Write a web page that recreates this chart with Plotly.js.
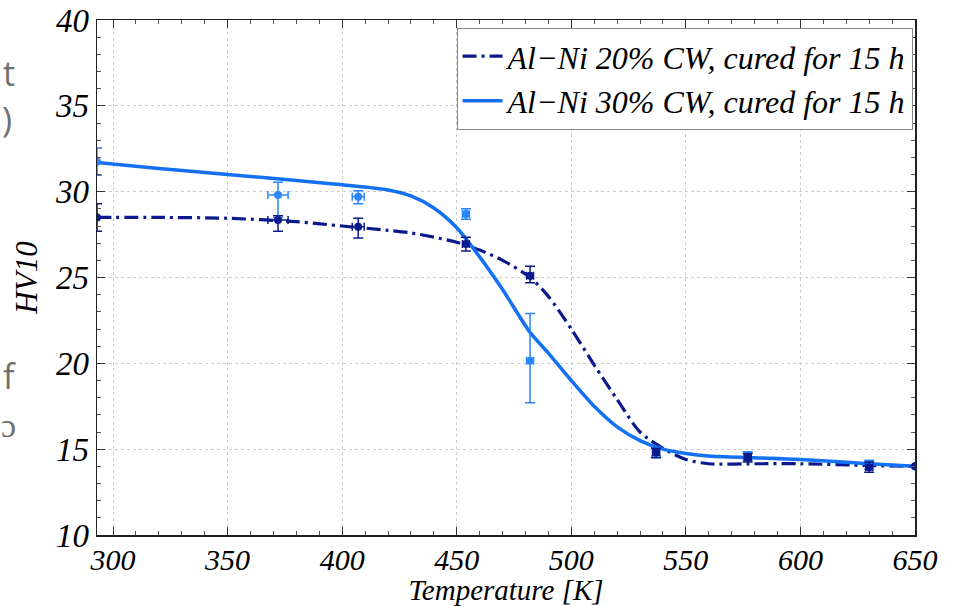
<!DOCTYPE html>
<html>
<head>
<meta charset="utf-8">
<script src="https://cdn.plot.ly/plotly-3.0.1.min.js"></script>
<style>html,body{margin:0;padding:0;background:#fff;}#chart{width:953px;height:606px;}</style>
</head>
<body>
<div id="chart"></div>
<script>
var tempPts = [293, 372, 407, 454, 482, 537, 577, 630, 650];
var hv20 = [28.5, 28.35, 27.95, 26.95, 25.1, 14.8, 14.5, 13.95, 14.0];
var hv20ErrPlus = [0.8, 0.25, 0.5, 0.4, 0.55, 0.25, 0.25, 0.3, 0];
var hv20ErrMinus = [0.8, 0.65, 0.65, 0.4, 0.4, 0.3, 0.25, 0.3, 0];
var temp20Err = [0, 4.4, 2.6, 1.5, 1.5, 1.5, 1.5, 1.5, 0];
var hv30 = [31.75, 29.8, 29.7, 28.7, 20.15, 14.85, 14.6, 14.1, 14.0];
var hv30ErrPlus = [0.8, 0.75, 0.35, 0.3, 2.75, 0.25, 0.25, 0.25, 0];
var hv30ErrMinus = [0.8, 1.3, 0.4, 0.3, 2.45, 0.25, 0.25, 0.25, 0];
var temp30Err = [0, 4.4, 2.6, 1.5, 1.5, 1.5, 1.5, 1.5, 0];

var curveT = [293, 320, 350, 380, 400, 420, 430, 440, 450, 460, 470, 482, 490, 500, 510, 520, 530, 540, 550, 560, 580, 600, 630, 650];
var curve20 = [28.5, 28.5, 28.45, 28.25, 28.0, 27.75, 27.6, 27.35, 27.05, 26.6, 26.0, 25.0, 23.9, 22.0, 19.9, 17.9, 16.0, 15.05, 14.4, 14.15, 14.15, 14.15, 14.05, 14.0];
var curve30 = [31.7, 31.35, 31.0, 30.65, 30.4, 30.1, 29.75, 29.05, 27.9, 26.2, 24.3, 21.8, 20.6, 19.0, 17.5, 16.3, 15.5, 15.0, 14.75, 14.6, 14.5, 14.4, 14.15, 14.0];

var names = ['Al\u2212Ni 20% CW, cured for 15 h', 'Al\u2212Ni 30% CW, cured for 15 h'];
var tickVals = [300, 350, 400, 450, 500, 550, 600, 650];
var ghostTexts = ['t', ')', 'f', '\u0254'];

var darkC = '#0a1a8c';
var lightC = '#1470f5';
var lightPt = '#2a84fa';
var serif = 'Liberation Serif';

var traces = [
  {x: curveT, y: curve20, mode: 'lines', name: names[0],
   line: {color: darkC, width: 3.2, dash: '14px,5px,3px,5px', shape: 'spline', smoothing: 0.8}},
  {x: curveT, y: curve30, mode: 'lines', name: names[1],
   line: {color: lightC, width: 3.5, shape: 'spline', smoothing: 0.8}},
  {x: tempPts, y: hv30, mode: 'markers', showlegend: false,
   marker: {color: lightPt, size: 8},
   error_y: {type: 'data', symmetric: false, array: hv30ErrPlus, arrayminus: hv30ErrMinus, color: lightPt, thickness: 1.5, width: 5},
   error_x: {type: 'data', array: temp30Err, color: lightPt, thickness: 1.5, width: 4}},
  {x: tempPts, y: hv20, mode: 'markers', showlegend: false,
   marker: {color: darkC, size: 8},
   error_y: {type: 'data', symmetric: false, array: hv20ErrPlus, arrayminus: hv20ErrMinus, color: darkC, thickness: 1.5, width: 5},
   error_x: {type: 'data', array: temp20Err, color: darkC, thickness: 1.5, width: 4}}
];

function px(p) { return (p - 97) / 818; }
function py(p) { return (535 - p) / 515; }
var ghost = {family: 'Open Sans', size: 34, color: '#707070'};
var ghostPos = [[1, 73], [0, 119], [1, 376], [-1, 424]];
var annotations = ghostTexts.map(function (t, i) {
  return {text: t, x: px(ghostPos[i][0]), y: py(ghostPos[i][1]), xref: 'paper', yref: 'paper',
          xanchor: 'left', yanchor: 'middle', showarrow: false, font: ghost};
});

var layout = {
  width: 953, height: 606,
  margin: {l: 97, r: 38, t: 20, b: 71},
  paper_bgcolor: '#ffffff', plot_bgcolor: '#ffffff',
  showlegend: true,
  legend: {x: 0.997, y: 0.985, xanchor: 'right', yanchor: 'top',
    bgcolor: '#ffffff', bordercolor: '#888888', borderwidth: 1,
    font: {family: serif, size: 32, style: 'italic', color: '#000'},
    itemwidth: 40, tracegroupgap: 0},
  xaxis: {
    range: [293, 650], tickvals: tickVals, ticktext: tickVals.map(String),
    ticks: 'inside', ticklen: 8, tickcolor: '#333', showline: true, linecolor: '#222', linewidth: 1.5, mirror: 'ticks',
    showgrid: true, gridcolor: '#cccccc', griddash: 'dot', gridwidth: 1, zeroline: false,
    minor: {ticks: 'inside', ticklen: 4, tick0: 300, dtick: 10, tickcolor: '#555', showgrid: false},
    tickfont: {family: serif, size: 30, style: 'italic', color: '#000'},
    ticklabelstandoff: -3,
    title: {text: 'Temperature [K]', font: {family: serif, size: 29, style: 'italic', color: '#000'}, standoff: 2}
  },
  yaxis: {
    range: [10, 40], tick0: 10, dtick: 5,
    ticks: 'inside', ticklen: 8, tickcolor: '#333', showline: true, linecolor: '#222', linewidth: 1.5, mirror: 'ticks',
    showgrid: true, gridcolor: '#cccccc', griddash: 'dot', gridwidth: 1, zeroline: false,
    minor: {ticks: 'inside', ticklen: 4, dtick: 1, tickcolor: '#555', showgrid: false},
    tickfont: {family: serif, size: 33, style: 'italic', color: '#000'},
    title: {text: 'HV10', font: {family: serif, size: 31, style: 'italic', color: '#000'}, standoff: 8}
  },
  annotations: annotations
};

Plotly.newPlot('chart', traces, layout, {displayModeBar: false, staticPlot: true});
</script>
</body>
</html>
